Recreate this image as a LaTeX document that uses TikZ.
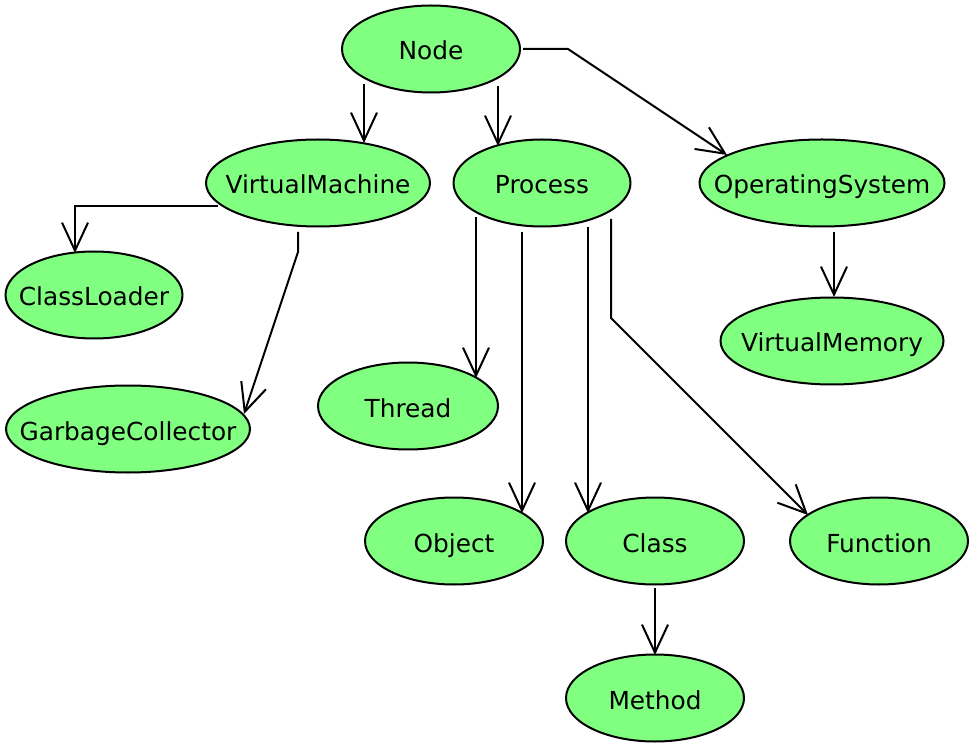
\documentclass[tikz,border=0pt]{standalone}
\usepackage{fontspec}
\setmainfont{DejaVu Sans}
\usepackage{tikz}
\usetikzlibrary{shapes.geometric,arrows.meta,calc}

\definecolor{classgreen}{HTML}{80FF80}

\begin{document}
\begin{tikzpicture}[x=0.5pt, y=-0.5pt,
    cls/.style={draw, ellipse, fill=classgreen, line width=1pt,
        minimum width=#1, minimum height=43.5pt, inner sep=0pt,
        text height=12pt, text depth=1pt,
        font=\fontsize{12.4pt}{15pt}\selectfont,
        execute at begin node={\hbox to 0pt\bgroup\hss},
        execute at end node={\hss\egroup}},
    dep/.style={line width=1pt, -{Straight Barb[length=14pt,width=13pt]}}]

    \useasboundingbox (0,0) rectangle (979,748);

    % Classes
    \node[cls=89pt] (Node) at (431,49) {Node};
    \node[cls=112pt] (VirtualMachine) at (318,183) {VirtualMachine};
    \node[cls=88.5pt] (Process) at (542,183) {Process};
    \node[cls=122.5pt] (OperatingSystem) at (822,183) {OperatingSystem};
    \node[cls=88.5pt] (ClassLoader) at (94,295) {ClassLoader};
    \node[cls=111.5pt] (VirtualMemory) at (832,341) {VirtualMemory};
    \node[cls=122pt] (GarbageCollector) at (128,429) {GarbageCollector};
    \node[cls=90pt] (Thread) at (408,406) {Thread};
    \node[cls=89pt] (Object) at (454,541) {Object};
    \node[cls=89pt] (Class) at (655,541) {Class};
    \node[cls=89pt] (Function) at (879,541) {Function};
    \node[cls=89pt] (Method) at (655,698) {Method};

    % From Node
    \draw[dep] ($(Node)+(-67,35)$) -- ($(VirtualMachine)+(46,-40)$);
    \draw[dep] ($(Node)+(67,37)$) -- ($(Process)+(-44,-37)$);
    \draw[dep] ($(Node)+(92,0)$) -- ($(Node)+(137,0)$)
        -- ($(OperatingSystem)+(-95,-28)$);

    % From VirtualMachine
    \draw[dep] ($(VirtualMachine)+(-100,23)$) -| ($(ClassLoader)+(-19,-42)$);
    \draw[dep] ($(VirtualMachine)+(-20,49)$) -- ($(VirtualMachine)+(-20,69)$)
        -- ($(GarbageCollector)+(116,-15)$);

    % From Process
    \draw[dep] ($(Process)+(-66,34)$) -- ($(Thread)+(68,-28)$);
    \draw[dep] ($(Process)+(-20,49)$) -- ($(Object)+(68,-28)$);
    \draw[dep] ($(Process)+(46,44)$) -- ($(Class)+(-67,-28)$);
    \draw[dep] ($(Process)+(69,36)$) -- ($(Process)+(69,135)$)
        -- ($(Function)+(-71,-26)$);

    % From OperatingSystem
    \draw[dep] ($(OperatingSystem)+(12,49)$) -- ($(VirtualMemory)+(2,-44)$);

    % From Class
    \draw[dep] ($(Class)+(0,47)$) -- ($(Method)+(0,-43)$);

\end{tikzpicture}
\end{document}
